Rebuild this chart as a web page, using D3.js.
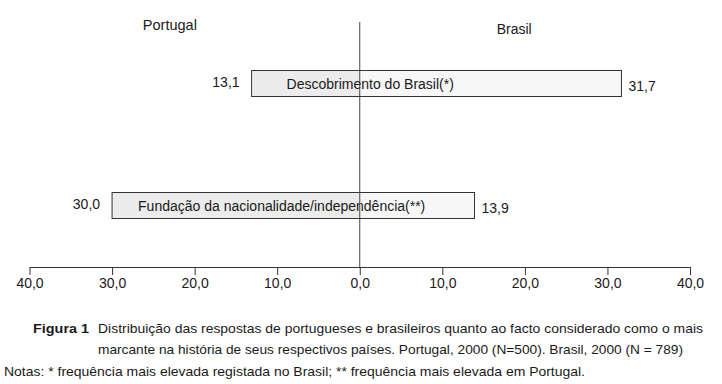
<!DOCTYPE html>
<html lang="pt">
<head>
<meta charset="UTF-8"/>
<title>Figura 1</title>
<script src="https://d3js.org/d3.v7.min.js"></script>
<style>
  body { margin: 0; background: #fff; }
  svg text { font-family: "Liberation Sans", Arial, sans-serif; fill: #1a1a1a; }
</style>
</head>
<body>
<div id="chart"></div>
<script>
// data
var categories = ["Descobrimento do Brasil(*)", "Fundação da nacionalidade/independência(**)"];
var portugal = [13.1, 30.0];
var brasil = [31.7, 13.9];
var tickValues = [-40, -30, -20, -10, 0, 10, 20, 30, 40];
var sides = ["Portugal", "Brasil"];
var captionLines = [
  "Distribuição das respostas de portugueses e brasileiros quanto ao facto considerado como o mais",
  "marcante na história de seus respectivos países. Portugal, 2000 (N=500). Brasil, 2000 (N = 789)"
];
var notes = "Notas: * frequência mais elevada registada no Brasil; ** frequência mais elevada em Portugal.";

var w = 722, h = 384;
var axisY = 267;

var svg = d3.select("#chart").append("svg")
  .attr("width", w)
  .attr("height", h);

// x scale: portugal to the left, brasil to the right
var xScale = d3.scaleLinear()
  .domain([-40, 40])
  .range([29.5, 690]);

var yScale = d3.scalePoint()
  .domain(categories)
  .range([83.5, 205.5]);

var barH = 26;
var fmt = function(v) { return d3.format(".1f")(Math.abs(v)).replace(".", ","); };

// bars
var rows = svg.selectAll("g.row")
  .data(categories)
  .enter().append("g")
  .attr("class", "row");

rows.append("rect")
  .attr("x", function(d, i) { return xScale(-portugal[i]); })
  .attr("y", function(d) { return yScale(d) - barH / 2; })
  .attr("width", function(d, i) { return xScale(0) - xScale(-portugal[i]); })
  .attr("height", barH)
  .attr("fill", "#ececec");

rows.append("rect")
  .attr("x", xScale(0))
  .attr("y", function(d) { return yScale(d) - barH / 2; })
  .attr("width", function(d, i) { return xScale(brasil[i]) - xScale(0); })
  .attr("height", barH)
  .attr("fill", "#f7f7f7");

// outline of the whole bar
rows.append("rect")
  .attr("x", function(d, i) { return xScale(-portugal[i]); })
  .attr("y", function(d) { return yScale(d) - barH / 2; })
  .attr("width", function(d, i) { return xScale(brasil[i]) - xScale(-portugal[i]); })
  .attr("height", barH)
  .attr("fill", "none")
  .attr("stroke", "#333")
  .attr("stroke-width", 1);

// centre line, on top of the bars
svg.append("line")
  .attr("x1", xScale(0)).attr("x2", xScale(0))
  .attr("y1", 22).attr("y2", axisY)
  .attr("stroke", "#444").attr("stroke-width", 1);

// category labels inside bars
var labelPad = [35, 26];
rows.append("text")
  .attr("x", function(d, i) { return xScale(-portugal[i]) + labelPad[i]; })
  .attr("y", function(d) { return yScale(d) + 5; })
  .attr("font-size", "14px")
  .text(function(d) { return d; });

// value labels
rows.append("text")
  .attr("x", function(d, i) { return xScale(-portugal[i]) - 12; })
  .attr("y", function(d) { return yScale(d) + 3; })
  .attr("text-anchor", "end")
  .attr("font-size", "14px")
  .text(function(d, i) { return fmt(portugal[i]); });

rows.append("text")
  .attr("x", function(d, i) { return xScale(brasil[i]) + 7; })
  .attr("y", function(d) { return yScale(d) + 7; })
  .attr("font-size", "14px")
  .text(function(d, i) { return fmt(brasil[i]); });

// side headings
svg.append("text")
  .attr("x", xScale(-23)).attr("y", 30)
  .attr("text-anchor", "middle")
  .attr("font-size", "14.5px")
  .text(sides[0]);
svg.append("text")
  .attr("x", xScale(18.7)).attr("y", 34)
  .attr("text-anchor", "middle")
  .attr("font-size", "14px")
  .text(sides[1]);

// axis
var xAxis = d3.axisBottom(xScale)
  .tickValues(tickValues)
  .tickFormat(fmt)
  .tickSize(8)
  .tickPadding(3)
  .tickSizeOuter(0);

var gx = svg.append("g")
  .attr("transform", "translate(0," + axisY + ")")
  .call(xAxis);
gx.select(".domain").attr("stroke", "#333");
gx.selectAll(".tick line").attr("stroke", "#333");
gx.selectAll(".tick text")
  .attr("font-family", "Liberation Sans, Arial, sans-serif")
  .attr("font-size", "14px")
  .attr("fill", "#1a1a1a");

// caption
svg.append("text")
  .attr("x", 33).attr("y", 333)
  .attr("font-size", "13px")
  .attr("font-weight", "bold")
  .attr("fill", "#333")
  .attr("textLength", 56)
  .attr("lengthAdjust", "spacingAndGlyphs")
  .text("Figura 1");

svg.selectAll("text.cap")
  .data(captionLines)
  .enter().append("text")
  .attr("class", "cap")
  .attr("x", 98)
  .attr("y", function(d, i) { return 333 + i * 21; })
  .attr("font-size", "13.5px")
  .attr("textLength", function(d, i) { return i === 0 ? 605 : 585; })
  .attr("lengthAdjust", "spacingAndGlyphs")
  .text(function(d) { return d; });

svg.append("text")
  .attr("x", 4).attr("y", 376)
  .attr("font-size", "13.5px")
  .attr("textLength", 581)
  .attr("lengthAdjust", "spacingAndGlyphs")
  .text(notes);
</script>
</body>
</html>
